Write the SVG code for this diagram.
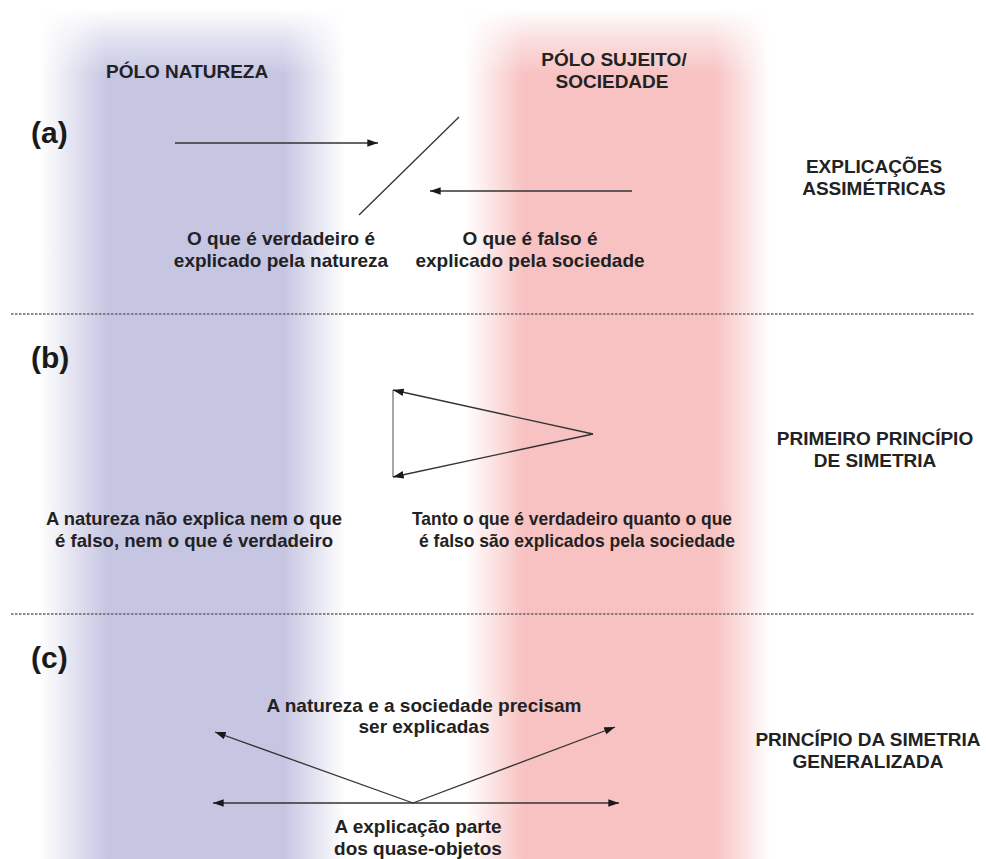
<svg xmlns="http://www.w3.org/2000/svg" width="986" height="859" viewBox="0 0 986 859">
  <defs>
    <style>
      .t { font-family: "Liberation Sans", Arial, sans-serif; font-weight: bold; font-size: 19px; fill: #222; }
      .c { text-anchor: middle; }
      .tag { font-family: "Liberation Sans", Arial, sans-serif; font-weight: bold; font-size: 30px; fill: #1a1a1a; }
      .ln { stroke: #333; stroke-width: 1.3; fill: none; }
      .plain { stroke: #777; stroke-width: 1.3; fill: none; }
      .dash { stroke: #666; stroke-width: 1.5; stroke-dasharray: 2.5 1.5; fill: none; }
    </style>
    <marker id="head" viewBox="0 0 10 7" refX="10" refY="3.5" markerWidth="11" markerHeight="7.5" markerUnits="userSpaceOnUse" orient="auto-start-reverse">
      <path d="M0,0 L10,3.5 L0,7 z" fill="#1a1a1a"/>
    </marker>
    <linearGradient id="gNature" gradientUnits="userSpaceOnUse" x1="40" y1="0" x2="345" y2="0">
      <stop offset="0" stop-color="#c6c6e3" stop-opacity="0"/>
      <stop offset="0.1" stop-color="#c6c6e3" stop-opacity="0.45"/>
      <stop offset="0.22" stop-color="#c6c6e3" stop-opacity="1"/>
      <stop offset="0.8" stop-color="#c6c6e3" stop-opacity="1"/>
      <stop offset="0.9" stop-color="#c6c6e3" stop-opacity="0.5"/>
      <stop offset="1" stop-color="#c6c6e3" stop-opacity="0"/>
    </linearGradient>
    <linearGradient id="gSociety" gradientUnits="userSpaceOnUse" x1="465" y1="0" x2="770" y2="0">
      <stop offset="0" stop-color="#f8c2c2" stop-opacity="0"/>
      <stop offset="0.1" stop-color="#f8c2c2" stop-opacity="0.5"/>
      <stop offset="0.19" stop-color="#f8c2c2" stop-opacity="1"/>
      <stop offset="0.82" stop-color="#f8c2c2" stop-opacity="1"/>
      <stop offset="0.92" stop-color="#f8c2c2" stop-opacity="0.45"/>
      <stop offset="1" stop-color="#f8c2c2" stop-opacity="0"/>
    </linearGradient>
    <linearGradient id="gTop" x1="0" y1="0" x2="0" y2="1">
      <stop offset="0" stop-color="#fff" stop-opacity="1"/>
      <stop offset="0.12" stop-color="#fff" stop-opacity="1"/>
      <stop offset="0.5" stop-color="#fff" stop-opacity="0.5"/>
      <stop offset="1" stop-color="#fff" stop-opacity="0"/>
    </linearGradient>
  </defs>

  <rect width="986" height="859" fill="#fff"/>

  <!-- the two poles as soft vertical bands -->
  <g id="bands">
    <rect x="40" y="0" width="305" height="859" fill="url(#gNature)"/>
    <rect x="465" y="0" width="305" height="859" fill="url(#gSociety)"/>
    <rect x="0" y="0" width="986" height="75" fill="url(#gTop)"/>
  </g>

  <!-- section separators -->
  <g id="separators">
    <line class="dash" x1="11" y1="314" x2="975" y2="314"/>
    <line class="dash" x1="11" y1="614" x2="975" y2="614"/>
  </g>

  <g id="pole-nature">
    <text class="t" x="106" y="78">PÓLO NATUREZA</text>
  </g>
  <g id="pole-society">
    <text class="t c" x="614" y="66">PÓLO SUJEITO/</text>
    <text class="t c" x="612" y="88">SOCIEDADE</text>
  </g>

  <!-- (a) asymmetric explanations -->
  <g id="section-a">
    <text class="tag" x="31" y="143">(a)</text>
    <text class="t c" x="874" y="173">EXPLICAÇÕES</text>
    <text class="t c" x="874" y="195">ASSIMÉTRICAS</text>
    <text class="t c" x="281" y="245">O que é verdadeiro é</text>
    <text class="t c" x="281" y="267">explicado pela natureza</text>
    <text class="t c" x="530" y="245">O que é falso é</text>
    <text class="t c" x="530" y="267">explicado pela sociedade</text>
  </g>

  <!-- (b) first principle of symmetry -->
  <g id="section-b">
    <text class="tag" x="31" y="368">(b)</text>
    <text class="t c" x="875" y="445">PRIMEIRO PRINCÍPIO</text>
    <text class="t c" x="875" y="467">DE SIMETRIA</text>
    <text class="t c" x="194" y="525" textLength="296" lengthAdjust="spacingAndGlyphs">A natureza não explica nem o que</text>
    <text class="t c" x="194" y="547" textLength="278" lengthAdjust="spacingAndGlyphs">é falso, nem o que é verdadeiro</text>
    <text class="t c" x="572" y="525" textLength="320" lengthAdjust="spacingAndGlyphs">Tanto o que é verdadeiro quanto o que</text>
    <text class="t c" x="577" y="547" textLength="316" lengthAdjust="spacingAndGlyphs">é falso são explicados pela sociedade</text>
  </g>

  <!-- (c) generalized symmetry -->
  <g id="section-c">
    <text class="tag" x="31" y="668">(c)</text>
    <text class="t c" x="424" y="712">A natureza e a sociedade precisam</text>
    <text class="t c" x="424" y="733">ser explicadas</text>
    <text class="t c" x="868" y="746">PRINCÍPIO DA SIMETRIA</text>
    <text class="t c" x="868" y="768">GENERALIZADA</text>
    <text class="t c" x="418" y="833">A explicação parte</text>
    <text class="t c" x="418" y="855">dos quase-objetos</text>
  </g>

  <g id="connectors">
    <!-- (a) -->
    <line class="ln" x1="175" y1="143" x2="378" y2="143" marker-end="url(#head)"/>
    <line class="ln" x1="459" y1="117" x2="359" y2="215"/>
    <line class="ln" x1="632" y1="191" x2="430" y2="191" marker-end="url(#head)"/>
    <!-- (b) -->
    <line class="plain" x1="393" y1="390" x2="393" y2="477"/>
    <line class="ln" x1="593" y1="434" x2="393" y2="390" marker-end="url(#head)"/>
    <line class="ln" x1="593" y1="434" x2="393" y2="477" marker-end="url(#head)"/>
    <!-- (c) -->
    <line class="ln" x1="413" y1="803" x2="215" y2="732" marker-end="url(#head)"/>
    <line class="ln" x1="413" y1="803" x2="615" y2="727" marker-end="url(#head)"/>
    <line class="ln" x1="213" y1="803" x2="619" y2="803" marker-start="url(#head)" marker-end="url(#head)"/>
  </g>
</svg>
